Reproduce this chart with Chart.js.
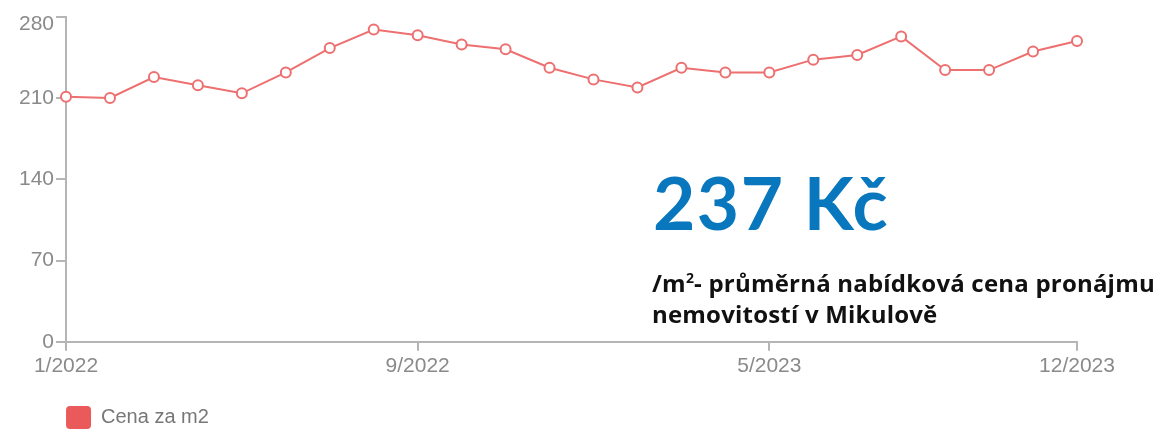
<!DOCTYPE html>
<html>
<head>
<meta charset="utf-8">
<script src="https://cdn.jsdelivr.net/npm/chart.js@4"></script>
<style>
  html, body { margin: 0; padding: 0; background: #fff; }
  .wrap { position: relative; width: 1157px; height: 429px; }
  .big {
    position: absolute; left: 653px; top: 166px;
    font-family: "Lato", "Noto Sans", sans-serif; font-weight: 700;
    font-size: 73px; color: #0877bd; line-height: 1; letter-spacing: 1.5px;
  }
  .sub {
    position: absolute; left: 652px; top: 267px;
    font-family: "Open Sans", "Noto Sans", sans-serif; font-weight: 700;
    font-size: 24px; color: #111; line-height: 31px; white-space: nowrap;
    letter-spacing: 0.2px;
  }
  .sub sup { font-size: 14px; line-height: 0; }
</style>
</head>
<body>
<div class="wrap">
  <canvas id="priceChart"></canvas>
  <div class="big">237 Kč</div>
  <div class="sub">/m<sup>2</sup>- průměrná nabídková cena pronájmu<br>nemovitostí v Mikulově</div>
</div>
<script>
// ===== Données =====
const months = [
    "1/2022", "2/2022", "3/2022", "4/2022", "5/2022", "6/2022", "7/2022", "8/2022",
    "9/2022", "10/2022", "11/2022", "12/2022", "1/2023", "2/2023", "3/2023", "4/2023",
    "5/2023", "6/2023", "7/2023", "8/2023", "9/2023", "10/2023", "11/2023", "12/2023"
];
const prices = [
    211, 210, 228, 221, 214, 232, 253, 269,
    264, 256, 252, 236, 226, 219, 236, 232,
    232, 243, 247, 263, 234, 234, 250, 259
];
const xTickLabels = ["1/2022", "9/2022", "5/2023", "12/2023"];
const yTicks = [0, 70, 140, 210, 280];
const seriesName = "Cena za m2";

// ===== Couleurs =====
const lineColor = "#ee6f6f";
const axisColor = "#b5b5b5";
const tickColor = "#8a8a8a";

const legendShift = {
    id: "legendShift",
    afterLayout(chart) {
        // aligner la légende sur l'axe Y et la descendre un peu
        const pad = chart.options.plugins.legend.labels.padding;
        const w = chart.legend.right - chart.legend.left;
        chart.legend.left = chart.chartArea.left - pad;
        chart.legend.right = chart.legend.left + w;
        chart.legend.top += 10;
        chart.legend.bottom += 10;
    }
};

function initChart() {
    const ctx = document.getElementById("priceChart").getContext("2d");
    new Chart(ctx, {
        type: "line",
        data: {
            labels: months,
            datasets: [{
                label: seriesName,
                data: prices,
                borderColor: lineColor,
                backgroundColor: "#eb5a5a",
                borderWidth: 2,
                tension: 0,
                pointRadius: 5,
                pointBorderWidth: 2,
                pointBackgroundColor: "#fff",
                pointBorderColor: lineColor
            }]
        },
        options: {
            responsive: true,
            maintainAspectRatio: false,
            animation: false,
            layout: { padding: { left: 17, right: 80, top: 0, bottom: 0 } },
            scales: {
                x: {
                    offset: false,
                    afterFit: (axis) => { axis.height += 4; },
                    border: { display: true, color: axisColor, width: 2 },
                    grid: {
                        drawOnChartArea: false,
                        drawTicks: true,
                        tickLength: 9,
                        lineWidth: 2,
                        color: (c) => xTickLabels.includes(months[c.index]) ? axisColor : "rgba(0,0,0,0)"
                    },
                    ticks: {
                        autoSkip: false,
                        maxRotation: 0,
                        padding: 3,
                        color: tickColor,
                        font: { family: "Liberation Sans", size: 21 },
                        callback: (v, i) => xTickLabels.includes(months[i]) ? months[i] : ""
                    }
                },
                y: {
                    min: 0,
                    max: 280,
                    afterBuildTicks: (axis) => { axis.ticks = yTicks.map(v => ({ value: v })); },
                    border: { display: true, color: axisColor, width: 2 },
                    grid: {
                        drawOnChartArea: false,
                        drawTicks: true,
                        tickLength: 10,
                        lineWidth: 2,
                        color: axisColor
                    },
                    ticks: {
                        padding: 2,
                        color: tickColor,
                        font: { family: "Liberation Sans", size: 21, lineHeight: 0.7 },
                        // le libellé du haut est décalé vers le bas
                        callback: (v) => v === yTicks[yTicks.length - 1] ? ["", String(v)] : String(v)
                    }
                }
            },
            plugins: {
                legend: {
                    position: "bottom",
                    align: "start",
                    labels: {
                        boxWidth: 25,
                        boxHeight: 23,
                        useBorderRadius: true,
                        borderRadius: 4,
                        padding: 10,
                        color: "#777",
                        font: { family: "Liberation Sans", size: 20 },
                        generateLabels: (chart) => [{
                            text: seriesName,
                            fillStyle: "#eb5a5a",
                            strokeStyle: "#eb5a5a",
                            lineWidth: 0,
                            fontColor: "#777",
                            datasetIndex: 0,
                            borderRadius: 4
                        }]
                    }
                },
                tooltip: { enabled: false }
            }
        },
        plugins: [legendShift]
    });
}

document.addEventListener("DOMContentLoaded", initChart);
</script>
</body>
</html>
